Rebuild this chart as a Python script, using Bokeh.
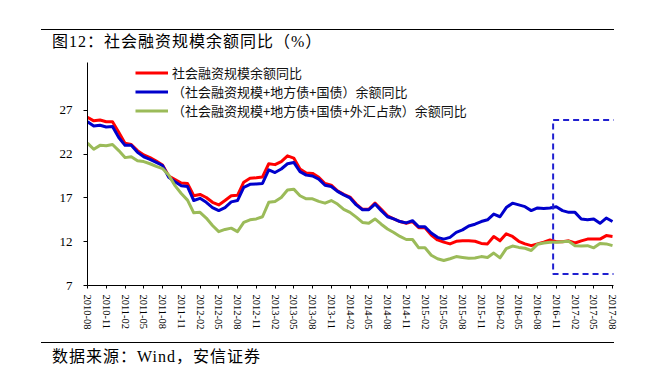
import math
from bokeh.plotting import figure
from bokeh.models import Div, BoxAnnotation, Legend, LegendItem, FixedTicker, Range1d
from bokeh.layouts import column
from bokeh.embed import file_html
from bokeh.resources import INLINE

# ---------------- data ----------------
months = [f"{2010 + (7 + k) // 12}-{(7 + k) % 12 + 1:02d}" for k in range(85)]  # 2010-08 .. 2017-08

tsf = [26.2, 25.8, 25.9, 25.7, 25.7, 24.5, 23.25, 23.1, 22.4, 21.9, 21.6, 21.2, 20.75,
       19.5, 19.1, 18.7, 18.65, 17.25, 17.4, 17.05, 16.5, 16.2, 16.7, 17.25, 17.3,
       18.8, 19.25, 19.3, 19.4, 20.9, 20.8, 21.15, 21.8, 21.55, 20.3, 19.85, 19.8,
       19.35, 18.65, 18.45, 17.8, 17.4, 17.1, 16.3, 15.7, 15.7, 16.4, 15.7, 14.95,
       14.6, 14.3, 14.1, 14.3, 13.6, 13.6, 12.75, 12.2, 11.95, 11.75, 12.05, 12.1,
       12.1, 12.05, 11.8, 11.75, 12.6, 12.1, 12.9, 12.6, 12.05, 11.75, 11.55, 11.75,
       11.95, 12.2, 12.0, 12.0, 12.1, 11.85, 12.1, 12.3, 12.3, 12.3, 12.7, 12.6]

tsf_bonds = [25.7, 25.2, 25.3, 25.1, 25.15, 23.9, 23.0, 23.0, 22.2, 21.7, 21.4, 21.05, 20.7,
             19.35, 18.85, 18.4, 18.3, 16.7, 16.95, 16.5, 15.9, 15.55, 15.9, 16.55, 16.7,
             18.2, 18.55, 18.6, 18.65, 20.2, 19.9, 20.3, 20.9, 21.05, 20.0, 19.6, 19.5,
             19.15, 18.45, 18.3, 17.75, 17.35, 17.0, 16.2, 15.65, 15.65, 16.3, 15.55, 14.85,
             14.6, 14.3, 14.15, 14.4, 13.7, 13.7, 13.0, 12.5, 12.3, 12.5, 13.07, 13.35,
             13.8, 14.0, 14.3, 14.5, 15.15, 14.85, 15.9, 16.4, 16.2, 16.0, 15.55, 15.85,
             15.8, 15.85, 16.0, 15.55, 15.35, 15.35, 14.6, 14.5, 14.6, 14.1, 14.7, 14.3]

tsf_bonds_fx = [23.25, 22.55, 23.0, 22.95, 23.1, 22.4, 21.6, 21.7, 21.25, 21.15, 20.9, 20.6, 20.35,
                19.6, 18.4, 17.5, 16.75, 15.3, 15.35, 14.7, 13.85, 13.15, 13.4, 13.55, 13.15,
                14.2, 14.5, 14.6, 14.85, 16.5, 16.6, 17.05, 17.9, 18.0, 17.25, 16.9, 16.9,
                16.6, 16.4, 16.7, 16.3, 15.7, 15.35, 14.8, 14.2, 14.1, 14.6, 14.0, 13.45,
                13.05, 12.6, 12.25, 12.25, 11.3, 11.3, 10.45, 10.05, 9.85, 10.05, 10.3, 10.2,
                10.1, 10.15, 10.3, 10.2, 10.7, 10.15, 11.2, 11.5, 11.35, 11.25, 11.0, 11.7,
                11.85, 11.95, 11.95, 12.0, 12.05, 11.55, 11.5, 11.55, 11.3, 11.8, 11.75, 11.55]

y_ticks = [7, 12, 17, 22, 27]
series_names = ["社会融资规模余额同比",
                "（社会融资规模+地方债+国债）余额同比",
                "（社会融资规模+地方债+国债+外汇占款）余额同比"]
series_colors = ["#FF0000", "#0000CC", "#9BBB59"]

# highlighted region (data coords)
box_x = [74.5, 85.0]
box_y = [8.3, 25.9]

title_text = "图12：社会融资规模余额同比（%）"
source_text = "数据来源：Wind，安信证券"

# ---------------- figure ----------------
idx = list(range(len(months)))

p = figure(width=638, height=288, output_backend="svg", toolbar_location=None,
           x_range=Range1d(0, 84.16), y_range=Range1d(7, 32.46),
           min_border_left=79, min_border_right=33, min_border_top=10, min_border_bottom=55,
           margin=(0, 0, 0, 8))
p.outline_line_color = None
p.xgrid.visible = False
p.ygrid.visible = False
p.background_fill_color = "white"
p.border_fill_color = "white"

renderers = []
for vals, col in zip([tsf, tsf_bonds, tsf_bonds_fx], series_colors):
    r = p.line(idx, vals, line_color=col, line_width=3, line_join="round")
    renderers.append(r)

p.add_layout(BoxAnnotation(left=box_x[0], right=box_x[1], bottom=box_y[0], top=box_y[1],
                           fill_alpha=0, fill_color=None, line_color="#2020D0", line_alpha=1.0,
                           line_width=2, line_dash="6 4"))

legend = Legend(items=[LegendItem(label=n, renderers=[r]) for n, r in zip(series_names, renderers)],
                location=(48, 165), padding=0, margin=0, spacing=-2,
                glyph_width=33, glyph_height=15, label_height=15, label_standoff=4,
                border_line_color=None, background_fill_alpha=0,
                label_text_font="Noto Sans CJK SC", label_text_font_size="13px",
                label_text_color="#111111")
p.add_layout(legend)

# axes
xa = p.xaxis[0]
xa.ticker = FixedTicker(ticks=idx[::3])
xa.major_label_overrides = {i: months[i] for i in idx[::3]}
xa.major_label_orientation = -math.pi / 2
xa.major_label_text_font = "Liberation Serif"
xa.major_label_text_font_size = "10.5px"
xa.major_label_text_color = "#000000"
xa.major_tick_in = 0
xa.major_tick_out = 3
xa.minor_tick_line_color = None
xa.major_label_standoff = 6
xa.axis_line_color = "#000000"

ya = p.yaxis[0]
ya.ticker = FixedTicker(ticks=y_ticks)
ya.major_label_text_font = "Liberation Serif"
ya.major_label_text_font_size = "13px"
ya.major_label_text_color = "#000000"
ya.major_tick_in = 0
ya.major_tick_out = 4
ya.minor_tick_line_color = None
ya.major_label_standoff = 11
ya.axis_line_color = "#000000"

font_css = "font-family:'Liberation Serif','Noto Sans CJK SC',serif;font-size:16px;letter-spacing:1px;line-height:18px;color:#000;white-space:nowrap;"

div_top = Div(text=(f'<div style="padding:21px 0 0 33px;">'
                    f'<div style="width:573px;border-top:1px solid #000;padding:3px 0 0 11px;{font_css}">'
                    f'{title_text}</div></div>'),
              width=638, height=44, margin=(8, 0, 0, 8))
div_bot = Div(text=(f'<div style="padding:2px 0 0 33px;">'
                    f'<div style="width:573px;border-top:1px solid #000;padding:5px 0 0 11px;{font_css}">'
                    f'{source_text}</div></div>'),
              width=638, height=33, margin=(0, 0, 0, 8))

layout = column(div_top, p, div_bot, spacing=0)

open("out.html", "w").write(file_html(layout, INLINE))
